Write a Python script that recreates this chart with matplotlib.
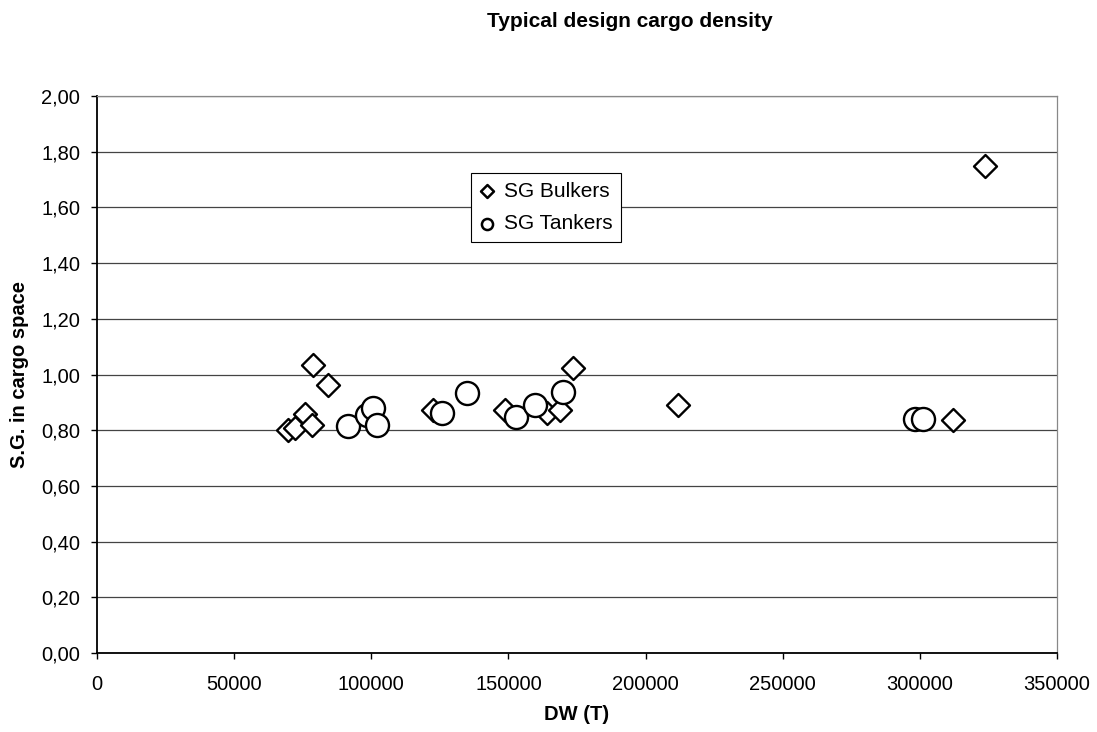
import matplotlib
matplotlib.use("Agg")
import matplotlib.pyplot as plt
from matplotlib.ticker import FuncFormatter, MultipleLocator

plt.rcParams['font.family'] = ['Liberation Sans', 'DejaVu Sans']

# data
bulk_dw = [69700, 72200, 75800, 78300, 78600, 84300, 122600, 148700, 163900, 168800, 173600, 211900, 312000, 323700]
bulk_sg = [0.80, 0.808, 0.858, 0.819, 1.034, 0.962, 0.873, 0.873, 0.861, 0.873, 1.022, 0.890, 0.837, 1.749]
tank_dw = [91600, 98300, 100500, 102000, 125700, 134800, 152800, 159700, 169800, 298200, 301000]
tank_sg = [0.815, 0.855, 0.880, 0.819, 0.863, 0.932, 0.848, 0.890, 0.938, 0.839, 0.839]

fig = plt.figure(figsize=(10.97, 7.32), dpi=100)
ax = fig.add_axes([0.0884, 0.1079, 0.8751, 0.7609])

ax.scatter(bulk_dw, bulk_sg, marker='D', s=11.7**2, facecolors='white', edgecolors='black',
           linewidths=1.7, zorder=3, label='SG Bulkers')
ax.scatter(tank_dw, tank_sg, marker='o', s=16.6**2, facecolors='white', edgecolors='black',
           linewidths=1.7, zorder=4, label='SG Tankers')

ax.set_xlim(0, 350000)
ax.set_ylim(0, 2.0)
ax.xaxis.set_major_locator(MultipleLocator(50000))
ax.yaxis.set_major_locator(MultipleLocator(0.2))
ax.yaxis.set_major_formatter(FuncFormatter(lambda v, p: f"{v:.2f}".replace('.', ',')))
ax.xaxis.set_major_formatter(FuncFormatter(lambda v, p: f"{int(v)}"))
ax.grid(axis='y', color='#444444', linewidth=0.9)
ax.set_axisbelow(True)

for s in ['top', 'right']:
    ax.spines[s].set_color('#888888')
    ax.spines[s].set_linewidth(0.9)
for s in ['left', 'bottom']:
    ax.spines[s].set_color('black')
    ax.spines[s].set_linewidth(1.3)

ax.tick_params(axis='both', direction='out', length=4, width=1, labelsize=14.5)
ax.tick_params(axis='y', pad=8)
ax.tick_params(axis='x', pad=12)

ax.set_xlabel('DW (T)', fontsize=14.5, fontweight='bold', va='center')
ax.xaxis.set_label_coords(0.5, -0.111)
ax.set_ylabel('S.G. in cargo space', fontsize=14.5, fontweight='bold', va='center', ha='center')
ax.yaxis.set_label_coords(-0.081, 0.5)
fig.text(0.5743, 0.9713, 'Typical design cargo density', fontsize=15, fontweight='bold',
         ha='center', va='center')

leg = ax.legend(loc='upper left', bbox_to_anchor=(0.3896, 0.8618), frameon=True, fancybox=False,
                edgecolor='black', framealpha=1, fontsize=15, handletextpad=0.45,
                borderpad=0.42, labelspacing=0.65, handlelength=0.7, borderaxespad=0)
leg.get_frame().set_linewidth(0.8)
leg.legend_handles[0].set_sizes([6.6**2])
leg.legend_handles[1].set_sizes([8**2])
for h in leg.legend_handles:
    h.set_linewidth(1.8)

fig.savefig('out.png', dpi=100)
